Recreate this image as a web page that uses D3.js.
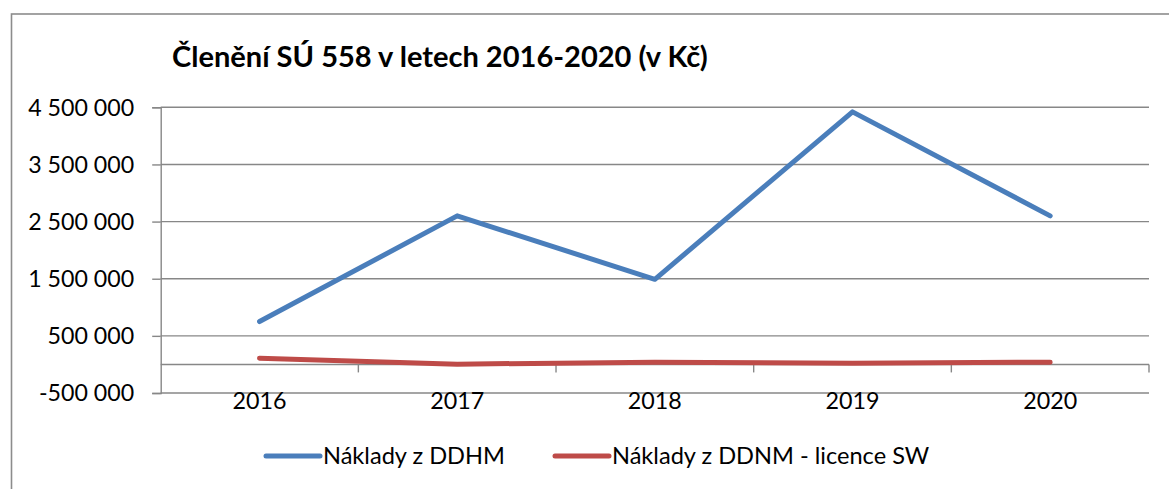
<!DOCTYPE html>
<html>
<head>
<meta charset="utf-8">
<script src="https://cdn.jsdelivr.net/npm/d3@7"></script>
<style>
  html, body { margin: 0; padding: 0; background: #fff; }
  svg { display: block; }
  text { font-family: Lato, "Open Sans", sans-serif; fill: #000; }
</style>
</head>
<body>
<svg id="chart" width="1169" height="489"></svg>
<script>
// ---- data ----
const categories = ["2016", "2017", "2018", "2019", "2020"];
const seriesNames = ["Náklady z DDHM", "Náklady z DDNM - licence SW"];
const ddhm = [750000, 2600000, 1490000, 4420000, 2600000];
const ddnm = [110000, 5000, 40000, 20000, 40000];
const yTickValues = [-500000, 500000, 1500000, 2500000, 3500000, 4500000];
const titleText = "Členění SÚ 558 v letech 2016-2020 (v Kč)";

// ---- layout ----
const svg = d3.select("#chart");
const W = 1169, H = 489;
const plot = { left: 160.7, right: 1149, top: 107.3, bottom: 393 };
const colors = ["#4A7EBB", "#BE4B48"];
const gridColor = "#878787";

const fmt = v => {
  const s = Math.abs(v).toString().replace(/\B(?=(\d{3})+(?!\d))/g, " ");
  return (v < 0 ? "-" : "") + s;
};

function fitFont(sel, targetWidth, base) {
  sel.style("font-size", base + "px");
  const w = sel.node().getComputedTextLength();
  const size = base * targetWidth / w;
  sel.style("font-size", size + "px");
  return size;
}

// outer border
svg.append("rect")
  .attr("x", 11.5).attr("y", 14).attr("width", W + 20).attr("height", H + 20)
  .attr("fill", "none").attr("stroke", "#8c8c8c").attr("stroke-width", 1.6);

// scales
const x = d3.scaleBand().domain(categories).range([plot.left, plot.right]).padding(0);
const y = d3.scaleLinear().domain([-500000, 4500000]).range([plot.bottom, plot.top]);
const cx = c => x(c) + x.bandwidth() / 2;

// gridlines
svg.append("g").selectAll("line").data(yTickValues).join("line")
  .attr("x1", plot.left).attr("x2", plot.right)
  .attr("y1", d => y(d)).attr("y2", d => y(d))
  .attr("stroke", gridColor).attr("stroke-width", 1.4);

// y axis
const yAxis = svg.append("g")
  .attr("transform", `translate(${plot.left},0)`)
  .call(d3.axisLeft(y).tickValues(yTickValues).tickSize(8.5).tickPadding(18).tickFormat(fmt));
yAxis.select(".domain").attr("stroke", gridColor).attr("stroke-width", 1.4);
yAxis.selectAll(".tick line").attr("stroke", gridColor).attr("stroke-width", 1.4);
yAxis.selectAll(".tick text").attr("font-family", null).style("fill", "#000").attr("dy", "0.34em");
{
  const t = yAxis.selectAll(".tick text").filter(d => d === 4500000);
  const size = fitFont(t, 106, 20);
  yAxis.selectAll(".tick text").style("font-size", size + "px");
}

// category axis at zero
const xAxis = svg.append("g")
  .attr("transform", `translate(0,${y(0)})`);
xAxis.append("line")
  .attr("x1", plot.left).attr("x2", plot.right)
  .attr("stroke", gridColor).attr("stroke-width", 1.4);
const bounds = categories.map(c => x(c)).slice(1).concat([plot.right]);
xAxis.selectAll("line.tk").data(bounds).join("line").attr("class", "tk")
  .attr("x1", d => d).attr("x2", d => d).attr("y1", 0).attr("y2", 8)
  .attr("stroke", gridColor).attr("stroke-width", 1.4);

// category labels (low position)
const xl = svg.append("g").selectAll("text").data(categories).join("text")
  .attr("x", d => cx(d)).attr("y", 409)
  .attr("text-anchor", "middle").text(d => d);
{
  const size = fitFont(xl.filter((d, i) => i === 0), 54, 20);
  xl.style("font-size", size + "px");
}

// lines
const lineGen = d3.line().x((d, i) => cx(categories[i])).y(d => y(d));
[ddhm, ddnm].forEach((s, i) => {
  svg.append("path").datum(s)
    .attr("d", lineGen)
    .attr("fill", "none").attr("stroke", colors[i]).attr("stroke-width", 5)
    .attr("stroke-linecap", "round").attr("stroke-linejoin", "round");
});

// title
const title = svg.append("text").attr("x", 172).attr("y", 67)
  .attr("font-weight", "bold").text(titleText);
fitFont(title, 536, 24);

// legend
const legendItems = [
  { name: seriesNames[0], color: colors[0], x1: 266, x2: 320, tx: 323 },
  { name: seriesNames[1], color: colors[1], x1: 555, x2: 609, tx: 612 }
];
const lg = svg.append("g");
lg.selectAll("line").data(legendItems).join("line")
  .attr("x1", d => d.x1).attr("x2", d => d.x2).attr("y1", 456).attr("y2", 456)
  .attr("stroke", d => d.color).attr("stroke-width", 5).attr("stroke-linecap", "round");
const lt = lg.selectAll("text").data(legendItems).join("text")
  .attr("x", d => d.tx).attr("y", 464).text(d => d.name);
{
  const size = fitFont(lt.filter((d, i) => i === 0), 182, 20);
  lt.style("font-size", size + "px");
}
</script>
</body>
</html>
